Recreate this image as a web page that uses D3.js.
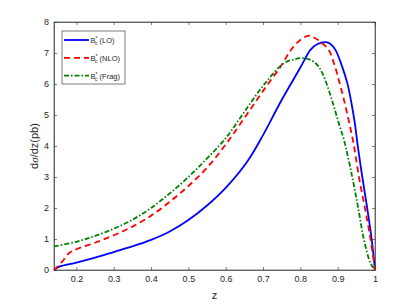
<!DOCTYPE html>
<html>
<head>
<meta charset="utf-8">
<script src="https://cdn.jsdelivr.net/npm/d3@7"></script>
<style>
  body { margin: 0; background: #fff; }
  svg { display: block; font-family: "Liberation Sans", Arial, sans-serif; }
</style>
</head>
<body>
<svg id="chart" width="415" height="304"></svg>
<script>
// z values and d sigma / dz (pb)
const loZ = [0.14, 0.154, 0.2, 0.25, 0.3, 0.35, 0.4, 0.45, 0.5, 0.55, 0.6, 0.658, 0.7, 0.747, 0.8, 0.827, 0.845, 0.868, 0.88, 0.894, 0.912, 0.926, 0.937, 0.946, 0.954, 0.966, 0.979, 0.991, 1.0];
const loY = [0, 0.11, 0.24, 0.4, 0.58, 0.76, 0.97, 1.24, 1.61, 2.08, 2.65, 3.5, 4.35, 5.42, 6.53, 7.1, 7.28, 7.35, 7.3, 7.1, 6.56, 6.02, 5.38, 4.73, 3.98, 3.0, 2.0, 1.0, 0];

const nloZ = [0.14, 0.15, 0.162, 0.18, 0.2, 0.25, 0.3, 0.35, 0.4, 0.45, 0.5, 0.55, 0.6, 0.65, 0.702, 0.747, 0.775, 0.8, 0.823, 0.841, 0.86, 0.876, 0.89, 0.903, 0.917, 0.93, 0.943, 0.957, 0.973, 0.988, 1.0];
const nloY = [0, 0.12, 0.27, 0.54, 0.67, 0.88, 1.12, 1.4, 1.75, 2.2, 2.71, 3.3, 4.05, 4.9, 5.81, 6.56, 7.1, 7.42, 7.56, 7.47, 7.3, 7.1, 6.67, 6.13, 5.48, 4.8, 4.05, 3.0, 2.0, 1.0, 0];

const fragZ = [0.14, 0.2, 0.25, 0.3, 0.35, 0.4, 0.45, 0.5, 0.55, 0.6, 0.65, 0.702, 0.756, 0.785, 0.814, 0.841, 0.859, 0.876, 0.89, 0.903, 0.917, 0.939, 0.955, 0.97, 0.988, 1.0];
const fragY = [0.76, 0.91, 1.1, 1.33, 1.62, 2.0, 2.47, 3.0, 3.6, 4.25, 5.1, 5.97, 6.67, 6.8, 6.83, 6.67, 6.35, 5.81, 5.27, 4.73, 4.19, 3.0, 2.0, 1.0, 0.22, 0];

const xTicks = [0.2, 0.3, 0.4, 0.5, 0.6, 0.7, 0.8, 0.9, 1];
const yTicks = [0, 1, 2, 3, 4, 5, 6, 7, 8];

const series = [
  { name: "LO", z: loZ, y: loY, color: "#0000ff", dash: null },
  { name: "NLO", z: nloZ, y: nloY, color: "#ff0000", dash: "6,4" },
  { name: "Frag", z: fragZ, y: fragY, color: "#008000", dash: "5,2,1.5,2" }
];

const margin = { left: 54, right: 40, top: 22, bottom: 34 };
const width = 415, height = 304;

const svg = d3.select("#chart");

const x = d3.scaleLinear().domain([0.14, 1]).range([margin.left, width - margin.right]);
const y = d3.scaleLinear().domain([0, 8]).range([height - margin.bottom, margin.top]);

const axisColor = "#262626";

// box
svg.append("rect")
  .attr("x", x.range()[0]).attr("y", y.range()[1])
  .attr("width", x.range()[1] - x.range()[0])
  .attr("height", y.range()[0] - y.range()[1])
  .attr("fill", "none").attr("stroke", axisColor).attr("stroke-width", 0.6);

const tickFmt = d => d === 1 ? "1" : d3.format(".1f")(d);

const gx = svg.append("g")
  .attr("transform", `translate(0,${y.range()[0]})`)
  .call(d3.axisBottom(x).tickValues(xTicks).tickFormat(tickFmt).tickSizeInner(-3).tickSizeOuter(0).tickPadding(6));
const gxTop = svg.append("g")
  .attr("transform", `translate(0,${y.range()[1]})`)
  .call(d3.axisTop(x).tickValues(xTicks).tickFormat("").tickSizeInner(-3).tickSizeOuter(0));
const gy = svg.append("g")
  .attr("transform", `translate(${x.range()[0]},0)`)
  .call(d3.axisLeft(y).tickValues(yTicks).tickSizeInner(-3).tickSizeOuter(0).tickPadding(5));
const gyRight = svg.append("g")
  .attr("transform", `translate(${x.range()[1]},0)`)
  .call(d3.axisRight(y).tickValues(yTicks).tickFormat("").tickSizeInner(-3).tickSizeOuter(0));

[gx, gxTop, gy, gyRight].forEach(g => {
  g.select(".domain").attr("stroke", axisColor).attr("stroke-width", 0.6);
  g.selectAll(".tick line").attr("stroke", axisColor).attr("stroke-width", 0.6);
  g.selectAll(".tick text").attr("fill", axisColor).style("font-size", "9px");
});

// curves
const line = d3.line()
  .x(d => x(d[0]))
  .y(d => y(d[1]))
  .curve(d3.curveCatmullRom.alpha(0.5));

const plot = svg.append("g");
series.forEach(s => {
  plot.append("path")
    .datum(s.z.map((z, i) => [z, s.y[i]]))
    .attr("d", line)
    .attr("fill", "none")
    .attr("stroke", s.color)
    .attr("stroke-width", 1.8)
    .attr("stroke-dasharray", s.dash);
});

// axis labels
svg.append("text")
  .attr("x", (x.range()[0] + x.range()[1]) / 2)
  .attr("y", 299)
  .attr("text-anchor", "middle")
  .attr("fill", axisColor)
  .style("font-size", "11px")
  .text("z");

svg.append("text")
  .attr("transform", `translate(38,${(y.range()[0] + y.range()[1]) / 2}) rotate(-90)`)
  .attr("text-anchor", "middle")
  .attr("fill", axisColor)
  .style("font-size", "11px")
  .html('d<tspan font-family="Liberation Serif, serif" font-style="italic">σ</tspan>/dz(pb)');

// legend
const legend = svg.append("g").attr("transform", "translate(62,31)");
legend.append("rect")
  .attr("width", 63).attr("height", 53)
  .attr("fill", "#fff").attr("stroke", axisColor).attr("stroke-width", 0.6);

series.forEach((s, i) => {
  const ly = 9 + i * 17.8;
  legend.append("line")
    .attr("x1", 2).attr("x2", 27)
    .attr("y1", ly).attr("y2", ly)
    .attr("stroke", s.color).attr("stroke-width", 1.8)
    .attr("stroke-dasharray", s.dash);
  const t = legend.append("text")
    .attr("x", 28.5).attr("y", ly + 3)
    .attr("fill", axisColor)
    .style("font-size", "7.5px");
  t.append("tspan").text("B");
  t.append("tspan").attr("dy", -3).style("font-size", "5px").text("*");
  t.append("tspan").attr("dx", -2.5).attr("dy", 5).style("font-size", "5px").text("c");
  t.append("tspan").attr("dy", -2).text(` (${s.name})`);
});
</script>
</body>
</html>
